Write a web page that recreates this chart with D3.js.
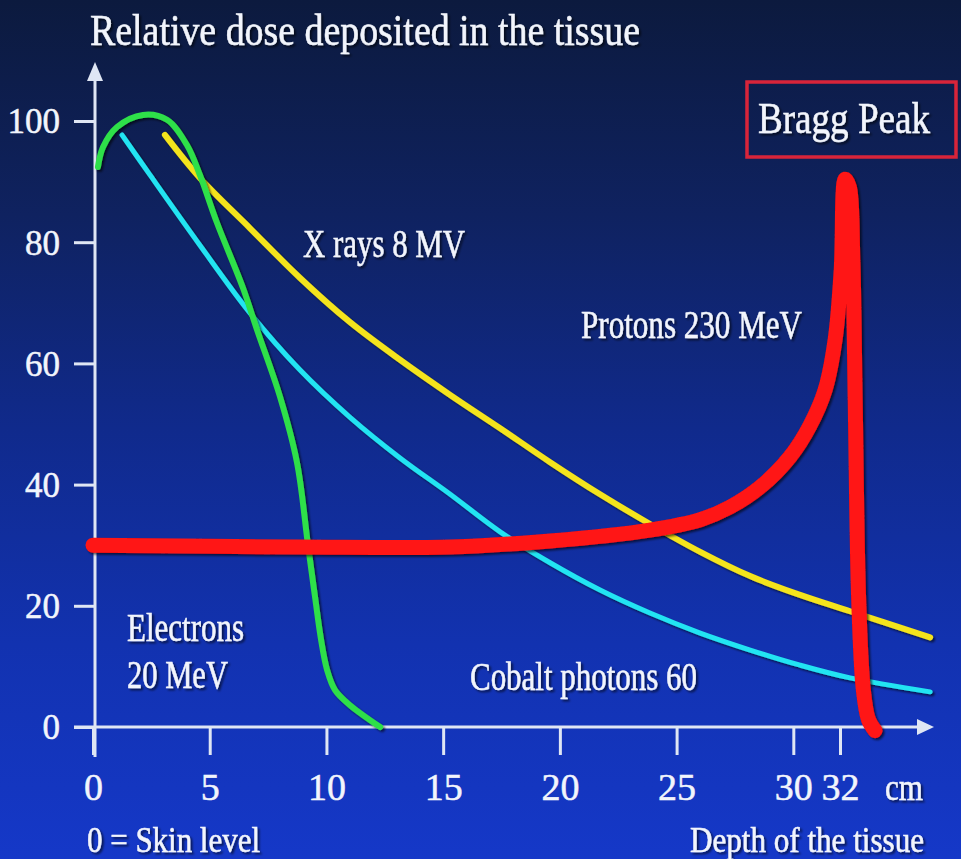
<!DOCTYPE html>
<html>
<head>
<meta charset="utf-8">
<script src="https://cdn.jsdelivr.net/npm/d3@7.9.0/dist/d3.min.js"></script>
<style>
  html, body { margin: 0; padding: 0; background: #0d1c4a; }
  svg { display: block; }
  text { font-family: "Liberation Serif", "DejaVu Serif", serif; fill: #f2f5fc; }
</style>
</head>
<body>
<svg id="chart" width="961" height="859"></svg>
<script>
// depth (cm), relative dose (%)
const electrons = [[0.21, 92.4], [0.43, 95.7], [1.03, 99.0], [2.14, 101.0], [3.17, 100.2],
  [4.03, 96.0], [4.58, 91.1], [5.31, 83.2], [6.43, 72.4], [7.03, 65.5], [8.01, 54.5],
  [8.74, 43.6], [9.21, 30.0], [9.51, 21.5], [9.77, 14.4], [10.03, 9.4], [10.37, 6.1],
  [11.01, 3.6], [12.3, 0]];
const cobalt = [[1.24, 97.7], [2.44, 91.1], [4.58, 79.5], [6.73, 68.3], [8.87, 58.9],
  [11.01, 51.1], [13.15, 44.4], [15.3, 38.4], [17.44, 32.2], [19.58, 27.1], [21.72, 22.6],
  [23.86, 18.8], [26.01, 15.5], [28.15, 12.7], [30.29, 10.2], [32.43, 8.1], [35.86, 5.8]];
const xrays = [[3.08, 97.7], [4.58, 90.6], [6.73, 82.3], [8.87, 74.1], [11.01, 66.8],
  [13.15, 60.6], [15.3, 54.8], [17.44, 49.3], [19.58, 43.7], [21.72, 38.4], [23.86, 33.5],
  [26.01, 28.9], [28.15, 24.9], [30.29, 21.8], [32.43, 19.1], [35.86, 14.8]];
const protons = [[0, 30.0], [8.87, 29.7], [15.3, 29.7], [19.58, 30.7], [23.86, 32.5],
  [26.01, 34.2], [27.29, 36.3], [28.58, 39.6], [29.86, 44.6], [30.72, 49.8], [31.36, 55.6],
  [31.79, 63.9], [32.05, 75.4], [32.22, 90.4], [32.4, 89.1], [32.55, 77], [32.65, 54],
  [32.8, 21], [33.0, 6.1], [33.22, 1.2], [33.5, -0.6]];

const xTicks = [0, 5, 10, 15, 20, 25, 30, 32];
const yTicks = [0, 20, 40, 60, 80, 100];

const svg = d3.select('#chart');
const defs = svg.append('defs');

const grad = defs.append('linearGradient').attr('id', 'bg')
  .attr('x1', 0).attr('y1', 0).attr('x2', 0).attr('y2', 1);
[[0, '#0c1a3e'], [0.25, '#0f2260'], [0.5, '#102a8c'], [0.75, '#1232b0'], [1, '#1538c8']]
  .forEach(([o, c]) => grad.append('stop').attr('offset', o).attr('stop-color', c));

const shadow = defs.append('filter').attr('id', 'shadow')
  .attr('x', '-10%').attr('y', '-10%').attr('width', '120%').attr('height', '120%');
shadow.append('feDropShadow').attr('dx', 2).attr('dy', 2).attr('stdDeviation', 1.2)
  .attr('flood-color', '#000').attr('flood-opacity', 0.6);

svg.append('rect').attr('width', 961).attr('height', 859).attr('fill', 'url(#bg)');

const x = d3.scaleLinear().domain([0, 32]).range([93, 840]);
const y = d3.scaleLinear().domain([0, 100]).range([727, 121]);

const axisColor = '#dfe6f4';

// y axis
const yAxis = svg.append('g').attr('transform', 'translate(95,0)')
  .call(d3.axisLeft(y).tickValues(yTicks).tickSize(21).tickPadding(14));
yAxis.select('.domain').remove();
yAxis.selectAll('line').attr('stroke', axisColor).attr('stroke-width', 3);
yAxis.selectAll('text').attr('font-size', 35).attr('fill', '#f2f5fc')
  .attr('stroke', '#f2f5fc').attr('stroke-width', 0.5)
  .attr('font-family', '"Liberation Serif", serif').attr('dy', '0.34em');

// x axis
const xAxis = svg.append('g').attr('transform', 'translate(0,727)')
  .call(d3.axisBottom(x).tickValues(xTicks).tickSize(28).tickPadding(18));
xAxis.select('.domain').remove();
xAxis.selectAll('line').attr('stroke', axisColor).attr('stroke-width', 3);
xAxis.selectAll('text').attr('font-size', 38).attr('fill', '#f2f5fc')
  .attr('stroke', '#f2f5fc').attr('stroke-width', 0.5)
  .attr('font-family', '"Liberation Serif", serif').attr('y', 73).attr('dy', 0);

// axis lines with arrows
svg.append('line').attr('x1', 95).attr('y1', 757).attr('x2', 95).attr('y2', 76)
  .attr('stroke', axisColor).attr('stroke-width', 3);
svg.append('path').attr('d', 'M95,62 L103,81 L87,81 Z').attr('fill', axisColor);
svg.append('line').attr('x1', 74).attr('y1', 727).attr('x2', 920).attr('y2', 727)
  .attr('stroke', axisColor).attr('stroke-width', 3);
svg.append('path').attr('d', 'M934,727 L917,719 L917,735 Z').attr('fill', axisColor);

// curves
const line = d3.line().x(d => x(d[0])).y(d => y(d[1])).curve(d3.curveCatmullRom.alpha(0.5));
const series = [
  { data: cobalt, color: '#22e4f2', width: 5 },
  { data: xrays, color: '#f4e41c', width: 6 },
  { data: electrons, color: '#2ee04a', width: 6 },
  { data: protons, color: '#ff1212', width: 15 }
];
series.forEach(s => {
  svg.append('path').datum(s.data).attr('d', line)
    .attr('fill', 'none').attr('stroke', s.color).attr('stroke-width', s.width)
    .attr('stroke-linecap', 'round').attr('stroke-linejoin', 'round')
    .attr('filter', 'url(#shadow)');
});

// text labels
function label(txt, lx, ly, size, len) {
  const t = svg.append('text').attr('x', lx).attr('y', ly).attr('font-size', size).text(txt)
    .attr('stroke', '#f2f5fc').attr('stroke-width', 0.5)
    .attr('filter', 'url(#shadow)');
  if (len) t.attr('textLength', len).attr('lengthAdjust', 'spacingAndGlyphs');
  return t;
}
label('Relative dose deposited in the tissue', 90, 45, 44, 550);
label('X rays 8 MV', 303, 257, 40, 162);
label('Protons 230 MeV', 581, 338, 39, 221);
label('Electrons', 127, 641, 39, 117);
label('20 MeV', 127, 688, 39, 101);
label('Cobalt photons 60', 470, 690, 39, 227);
label('cm', 885, 800, 38, 38);
label('0 = Skin level', 87, 852, 36, 173);
label('Depth of the tissue', 690, 852, 36, 234);

// Bragg peak box
svg.append('rect').attr('x', 747).attr('y', 82).attr('width', 209).attr('height', 75)
  .attr('fill', 'none').attr('stroke', '#d8243a').attr('stroke-width', 3.5);
label('Bragg Peak', 758, 133, 44, 172);
</script>
</body>
</html>
